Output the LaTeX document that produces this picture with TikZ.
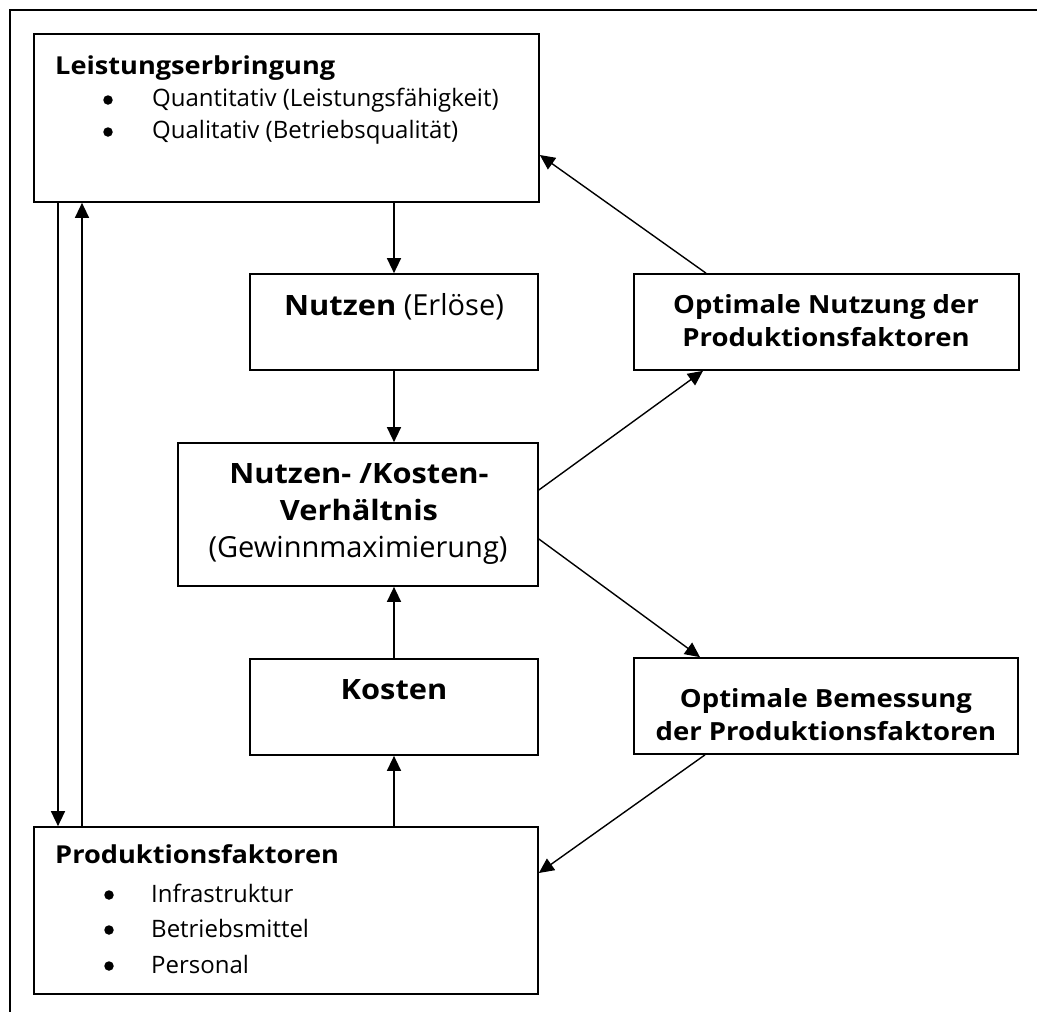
\documentclass[tikz,border=0pt]{standalone}
\usepackage{fontspec}
\setmainfont{Open Sans}[BoldFeatures={FakeStretch=1.1}]
\usetikzlibrary{arrows.meta}
\tikzset{
  box/.style={draw, line width=1.7pt, inner sep=0pt},
  arr/.style={line width=1.4pt, -{Triangle[length=15pt,width=14pt]}},
  bt/.style={font=\fontsize{24.7}{28}\selectfont\bfseries, inner sep=0pt},
  rt/.style={font=\fontsize{24}{28}\selectfont, inner sep=0pt},
  obt/.style={font=\fontsize{25}{28}\selectfont\bfseries, inner sep=0pt},
  mbt/.style={font=\fontsize{28}{32}\selectfont\bfseries, inner sep=0pt},
  mrt/.style={font=\fontsize{29}{32}\selectfont, inner sep=0pt},
  dot/.style={circle, fill, inner sep=0pt, minimum size=9.5pt},
}
\begin{document}
\begin{tikzpicture}[x=1pt,y=-1pt]
\useasboundingbox (0,0) rectangle (1037,1015);
\draw[line width=1.7pt] (1037,10) -- (10,10) -- (10,1012);
% boxes
\node[box, minimum width=505pt, minimum height=168pt] (L) at (286.5,118) {};
\node[box, minimum width=288pt, minimum height=96pt] (N) at (394,322) {};
\node[box, minimum width=360pt, minimum height=143pt] (NK) at (358,514.5) {};
\node[box, minimum width=288pt, minimum height=96pt] (K) at (394,707) {};
\node[box, minimum width=504pt, minimum height=167pt] (PF) at (286,910.5) {};
\node[box, minimum width=385pt, minimum height=96pt] (ON) at (826.5,322) {};
\node[box, minimum width=384pt, minimum height=96pt] (OB) at (826,706) {};
% texts
\node[bt, anchor=base west] (Lt) at (55,74) {Leistungserbringung};
\node[dot] (Lb1) at (108,100) {};
\node[rt, anchor=base west] (Lq1) at (152,106) {Quantitativ (Leistungsfähigkeit)};
\node[dot] (Lb2) at (108,132) {};
\node[rt, anchor=base west] (Lq2) at (152,138) {Qualitativ (Betriebsqualität)};
\node[mrt, anchor=base] (Nt) at (394,315) {{\fontsize{28}{32}\selectfont\bfseries Nutzen} (Erlöse)};
\node[mbt, anchor=base] (NK1) at (359,483) {Nutzen- /Kosten-};
\node[mbt, anchor=base] (NK2) at (359,520) {Verhältnis};
\node[mrt, anchor=base] (NK3) at (358,557) {(Gewinnmaximierung)};
\node[mbt, anchor=base] (Kt) at (394,699) {Kosten};
\node[obt, anchor=base] (ON1) at (826,313) {Optimale Nutzung der};
\node[obt, anchor=base] (ON2) at (826,346) {Produktionsfaktoren};
\node[obt, anchor=base] (OB1) at (826,707) {Optimale Bemessung};
\node[obt, anchor=base] (OB2) at (826,740) {der Produktionsfaktoren};
\node[bt, anchor=base west] (PFt) at (55,863) {Produktionsfaktoren};
\node[dot] (Pb1) at (109,895) {};
\node[rt, anchor=base west] (Pq1) at (151,902) {Infrastruktur};
\node[dot] (Pb2) at (109,930) {};
\node[rt, anchor=base west] (Pq2) at (151,937) {Betriebsmittel};
\node[dot] (Pb3) at (109,966) {};
\node[rt, anchor=base west] (Pq3) at (151,973) {Personal};
% helper coordinates
\coordinate (xa) at (58,0);
\coordinate (xb) at (82,0);
\coordinate (ya) at (0,490);
\coordinate (yb) at (0,539);
\coordinate (yc) at (0,155);
\coordinate (yd) at (0,873);
\coordinate (xon1) at (703,0);
\coordinate (xon2) at (706,0);
\coordinate (xob1) at (700,0);
\coordinate (xob2) at (705,0);
% connectors
\draw[arr] (L.south -| xa) -- (PF.north -| xa);
\draw[arr] (PF.north -| xb) -- (L.south -| xb);
\draw[arr] (L.south -| N.north) -- (N.north);
\draw[arr] (N.south) -- (N.south |- NK.north);
\draw[arr] (PF.north -| K.south) -- (K.south);
\draw[arr] (K.north) -- (K.north |- NK.south);
\draw[arr] (NK.east |- ya) -- (ON.south -| xon1);
\draw[arr] (NK.east |- yb) -- (OB.north -| xob1);
\draw[arr] (ON.north -| xon2) -- (L.east |- yc);
\draw[arr] (OB.south -| xob2) -- (PF.east |- yd);
\end{tikzpicture}
\end{document}
